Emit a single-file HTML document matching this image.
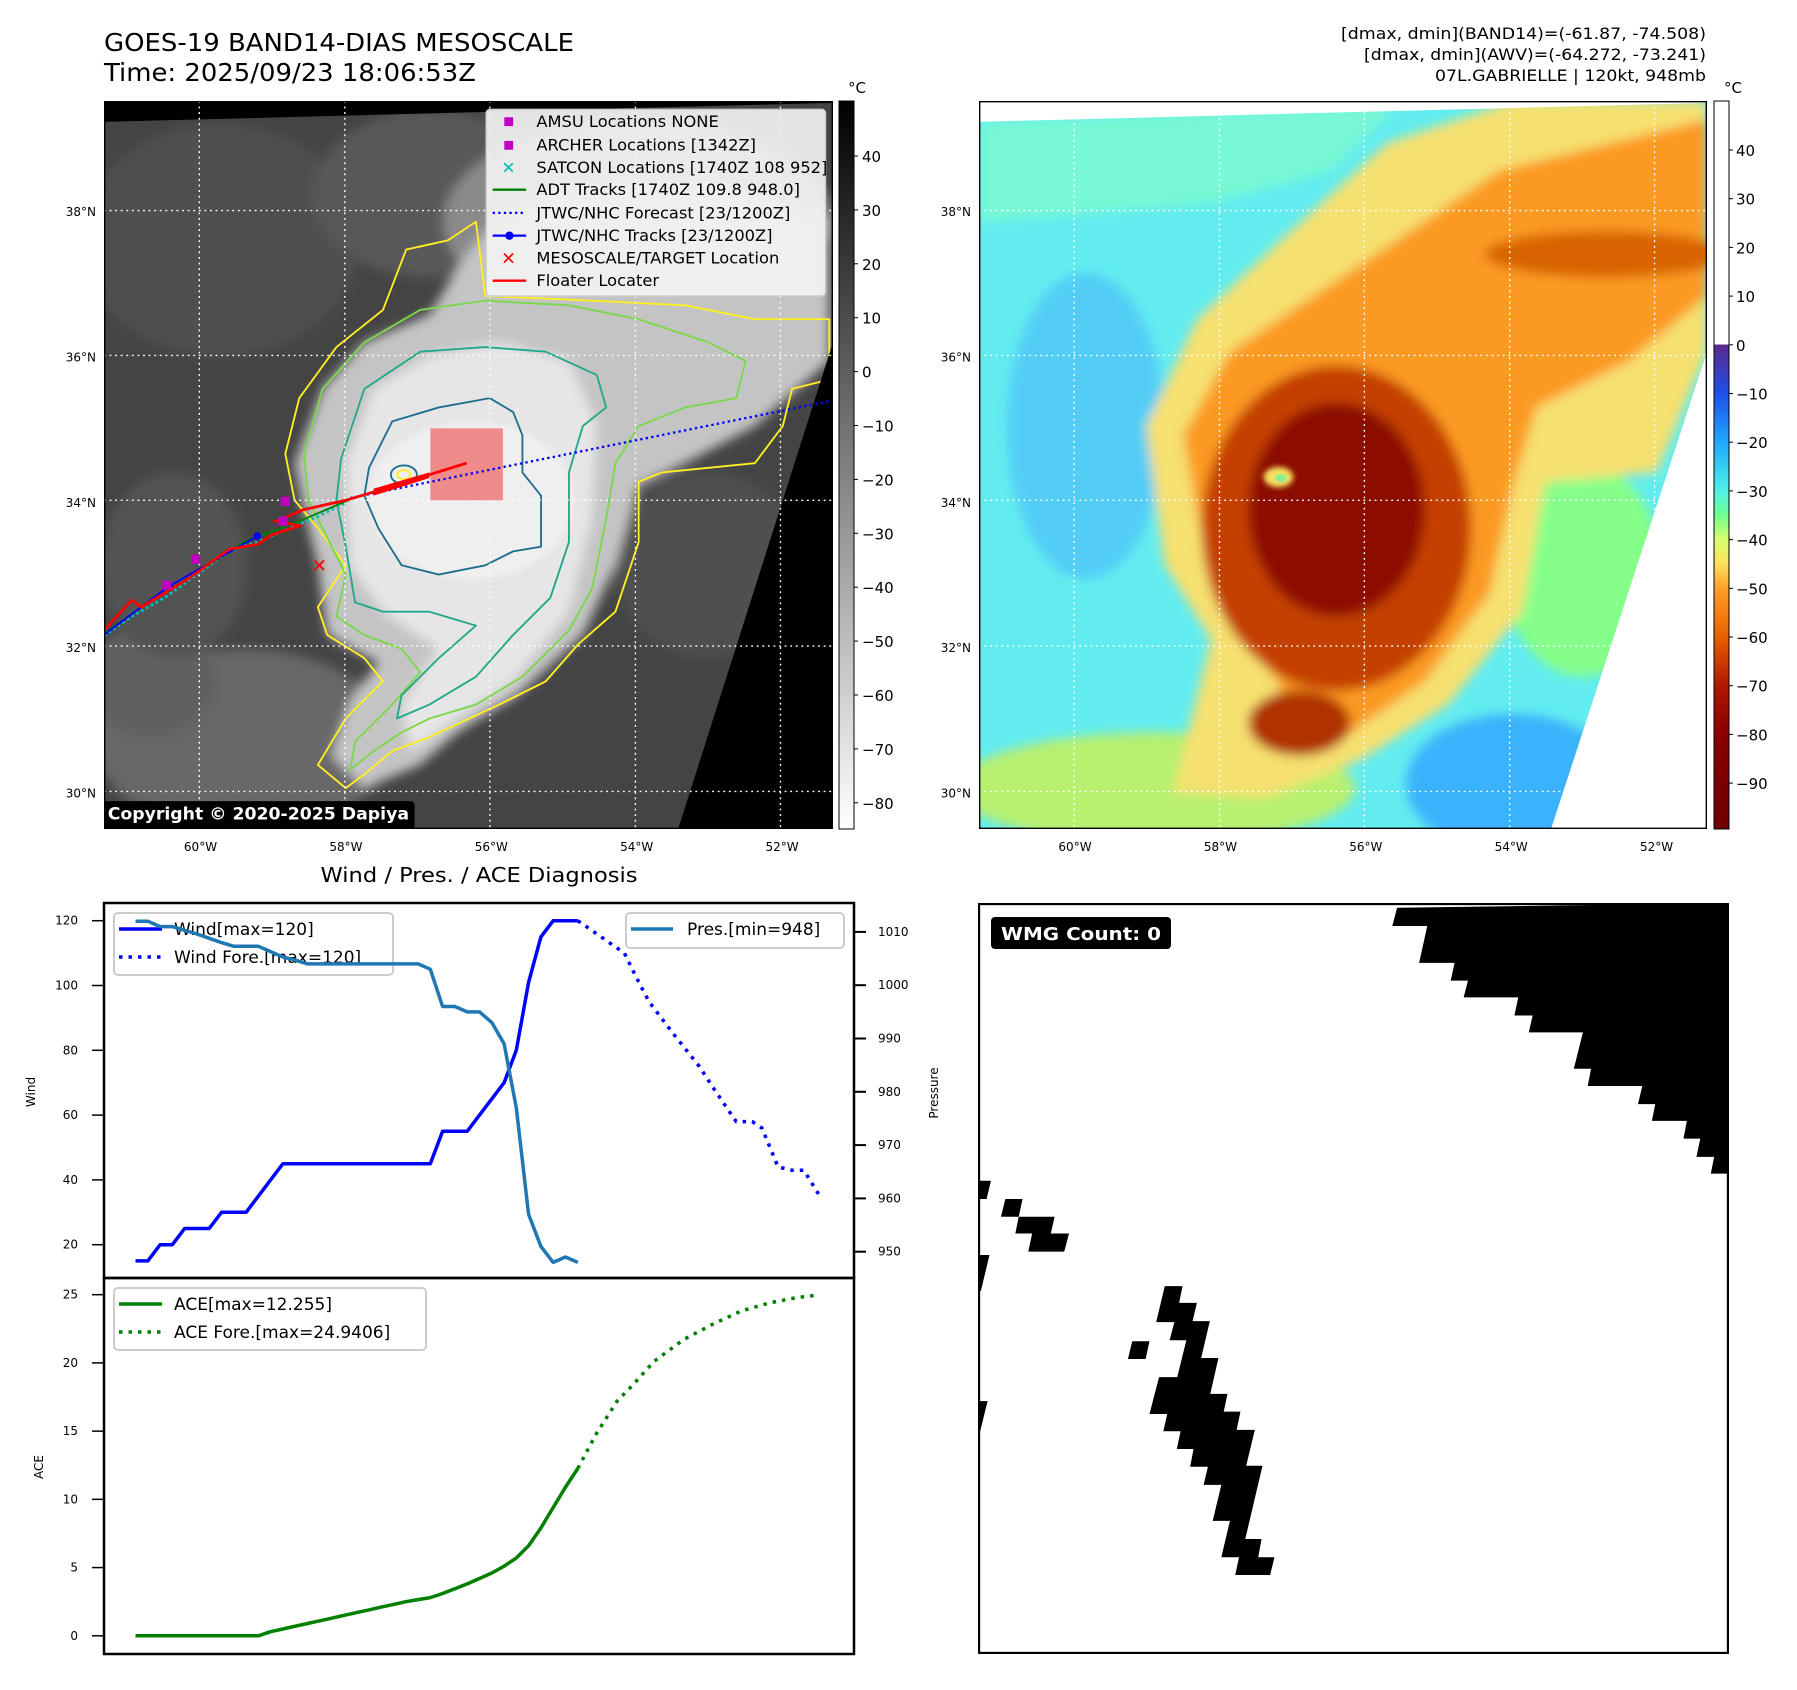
<!DOCTYPE html>
<html><head><meta charset="utf-8"><title>GOES-19 BAND14 Gabrielle</title>
<style>
html,body{margin:0;padding:0;background:#fff;}
svg{display:block;font-family:"DejaVu Sans","Liberation Sans",sans-serif;}
</style></head>
<body>
<svg id="fig" width="1797" height="1690" viewBox="0 0 1797 1690" xmlns="http://www.w3.org/2000/svg">
<defs>
  <filter id="blur1" x="-20%" y="-20%" width="140%" height="140%"><feGaussianBlur stdDeviation="12"/></filter>
  <filter id="blur2" x="-20%" y="-20%" width="140%" height="140%"><feGaussianBlur stdDeviation="6"/></filter>
  <linearGradient id="grayCb" x1="0" y1="0" x2="0" y2="1">
    <stop offset="0" stop-color="#000"/><stop offset="1" stop-color="#fff"/>
  </linearGradient>
  <linearGradient id="colCb" x1="0" y1="0" x2="0" y2="1">
    <stop offset="0" stop-color="#fff"/><stop offset="0.334" stop-color="#fff"/>
    <stop offset="0.335" stop-color="#5a2a8c"/><stop offset="0.401" stop-color="#1e4ee8"/>
    <stop offset="0.468" stop-color="#1ea8ff"/><stop offset="0.535" stop-color="#4ef0e8"/>
    <stop offset="0.569" stop-color="#70ff90"/><stop offset="0.602" stop-color="#d8ff70"/>
    <stop offset="0.635" stop-color="#ffe060"/><stop offset="0.669" stop-color="#ffa028"/>
    <stop offset="0.736" stop-color="#e86000"/><stop offset="0.803" stop-color="#b01800"/>
    <stop offset="0.870" stop-color="#880000"/><stop offset="1" stop-color="#700000"/>
  </linearGradient>
  <clipPath id="mapClip"><rect x="0" y="0" width="1568" height="1568"/></clipPath>
</defs>

<text x="104" y="51" font-size="25" textLength="470" lengthAdjust="spacingAndGlyphs">GOES-19 BAND14-DIAS MESOSCALE</text>
<text x="104" y="81" font-size="25" textLength="372" lengthAdjust="spacingAndGlyphs">Time: 2025/09/23 18:06:53Z</text>
<text x="1706" y="39" font-size="16" text-anchor="end" textLength="365" lengthAdjust="spacingAndGlyphs">[dmax, dmin](BAND14)=(-61.87, -74.508)</text>
<text x="1706" y="60" font-size="16" text-anchor="end" textLength="342" lengthAdjust="spacingAndGlyphs">[dmax, dmin](AWV)=(-64.272, -73.241)</text>
<text x="1706" y="81" font-size="16" text-anchor="end" textLength="271" lengthAdjust="spacingAndGlyphs">07L.GABRIELLE | 120kt, 948mb</text>

<!-- LEFT MAP -->
<svg x="104" y="101" width="729" height="728" viewBox="0 0 1568 1568" preserveAspectRatio="none">
 <g clip-path="url(#mapClip)">
  <rect width="1568" height="1568" fill="#444"/>
  <g filter="url(#blur1)">
   <ellipse cx="250" cy="300" rx="300" ry="250" fill="#505050"/>
   <ellipse cx="300" cy="1380" rx="320" ry="200" fill="#686868"/>
   <ellipse cx="100" cy="1250" rx="140" ry="120" fill="#606060"/>
   <ellipse cx="150" cy="1000" rx="160" ry="200" fill="#525252"/>
   <ellipse cx="700" cy="200" rx="250" ry="180" fill="#585858"/>
   <ellipse cx="1150" cy="260" rx="420" ry="220" fill="#8a8a8a"/>
   <ellipse cx="1300" cy="1000" rx="200" ry="200" fill="#505050"/>
   <path d="M410,780 L470,620 L560,520 L700,460 L780,330 L850,250 L1000,180 L1300,170 L1560,250 L1560,560 L1400,700 L1250,780 L1150,830 L1100,1000 L1030,1150 L890,1280 L760,1360 L680,1430 L560,1480 L490,1410 L530,1290 L590,1210 L480,1150 L460,1000 L430,880 Z" fill="#c4c4c4"/>
   <path d="M520,780 L580,620 L700,550 L850,520 L1000,560 L1060,700 L1050,900 L1000,1100 L880,1250 L760,1330 L660,1400 L640,1300 L720,1180 L600,1100 L530,1000 Z" fill="#e6e6e6"/>
  </g>
  <ellipse cx="790" cy="860" rx="220" ry="170" fill="#efefef" filter="url(#blur2)"/>
  <g fill="none" stroke-width="4" stroke-linejoin="round">
   <path stroke="#ffee22" d="M390,760 L420,640 L500,530 L600,450 L650,320 L740,300 L800,260 L820,420 L1050,430 L1250,440 L1400,470 L1560,470 L1560,600 L1480,620 L1460,700 L1400,780 L1300,790 L1200,800 L1150,820 L1150,950 L1100,1100 L1020,1170 L950,1250 L850,1300 L700,1370 L620,1400 L560,1450 L520,1480 L460,1430 L520,1330 L600,1250 L560,1200 L480,1150 L460,1090 L520,1000 L460,920 L410,860 Z"/>
   <path stroke="#7ad84a" d="M430,760 L470,620 L560,520 L680,450 L820,430 L1000,440 L1150,470 L1300,520 L1380,560 L1360,640 L1250,660 L1150,700 L1100,780 L1080,900 L1050,1050 L1000,1140 L900,1240 L800,1300 L700,1330 L640,1360 L580,1400 L530,1440 L540,1380 L620,1300 L680,1230 L640,1180 L560,1150 L500,1110 L520,1020 L480,940 L440,860 Z"/>
   <path stroke="#22a88a" d="M510,770 L560,620 L680,540 L820,530 L950,540 L1060,590 L1080,660 L1030,700 L1000,800 L1000,950 L960,1070 L880,1150 L800,1240 L700,1300 L630,1330 L640,1280 L720,1200 L800,1130 L700,1100 L600,1100 L540,1080 L520,960 L500,860 Z"/>
   <path stroke="#1f6f8c" d="M570,790 L620,690 L720,660 L830,640 L880,670 L900,720 L900,800 L940,850 L940,960 L880,970 L820,1000 L720,1020 L640,1000 L590,920 L560,850 Z"/>
   <ellipse cx="645" cy="805" rx="28" ry="20" stroke="#1f6f8c"/>
   <ellipse cx="645" cy="805" rx="14" ry="10" stroke="#ffee22"/>
  </g>
  <polygon points="1568,520 1568,1568 1235,1568" fill="#000"/>
  <polygon points="0,0 1568,0 1568,4 0,45" fill="#000"/>
  <g stroke="#fff" stroke-width="3" stroke-dasharray="4,8">
   <line x1="205" y1="0" x2="205" y2="1568"/><line x1="518" y1="0" x2="518" y2="1568"/><line x1="830" y1="0" x2="830" y2="1568"/><line x1="1143" y1="0" x2="1143" y2="1568"/><line x1="1455" y1="0" x2="1455" y2="1568"/>
   <line x1="0" y1="236" x2="1568" y2="236"/><line x1="0" y1="548" x2="1568" y2="548"/><line x1="0" y1="860" x2="1568" y2="860"/><line x1="0" y1="1174" x2="1568" y2="1174"/><line x1="0" y1="1487" x2="1568" y2="1487"/>
  </g>
  <rect x="702" y="705" width="156" height="155" fill="#f08080" opacity="0.9"/>
  <polyline points="530,855 1568,645" fill="none" stroke="#0000ff" stroke-width="5" stroke-dasharray="5,7"/>
  <polyline points="0,1152 60,1110 130,1070 200,1020 270,968 330,950 400,920 460,895 520,865" fill="none" stroke="#00c0c0" stroke-width="6" stroke-dasharray="6,6"/>
  <polyline points="0,1148 80,1090 200,1015 300,950 420,905 530,858" fill="none" stroke="#008000" stroke-width="4"/>
  <polyline points="0,1150 140,1045 330,937" fill="none" stroke="#0000ff" stroke-width="4"/>
  <circle cx="330" cy="937" r="8" fill="#0000ff"/><circle cx="140" cy="1045" r="8" fill="#0000ff"/>
  <polyline points="0,1140 60,1075 80,1090 180,1030 270,965 330,955 360,935 420,915 370,905 430,880 520,860 580,842 780,780" fill="none" stroke="#ff0000" stroke-width="6"/>
  <polygon points="580,835 700,800 700,812 580,850" fill="#ff0000"/>
  <g fill="#c000c0">
   <rect x="380" y="852" width="20" height="20"/><rect x="187" y="977" width="20" height="20"/><rect x="125" y="1033" width="20" height="20"/><rect x="375" y="895" width="20" height="20"/>
  </g>
  <text x="463" y="1014" font-size="40" font-weight="bold" fill="#ff0000" text-anchor="middle">✕</text>
  <g>
   <rect x="822" y="18" width="730" height="402" rx="8" fill="#f2f2f2" fill-opacity="0.92" stroke="#ccc" stroke-width="3"/>
   <rect x="861" y="35" width="19" height="19" fill="#c000c0"/>
   <rect x="861" y="86" width="19" height="19" fill="#c000c0"/>
   <text x="870" y="156" font-size="36" fill="#00c0c0" text-anchor="middle" font-weight="bold">✕</text>
   <line x1="836" y1="191" x2="908" y2="191" stroke="#008000" stroke-width="5"/>
   <line x1="836" y1="241" x2="908" y2="241" stroke="#0000ff" stroke-width="5" stroke-dasharray="5,7"/>
   <line x1="836" y1="290" x2="908" y2="290" stroke="#0000ff" stroke-width="5"/><circle cx="872" cy="290" r="9" fill="#0000ff"/>
   <text x="870" y="352" font-size="38" fill="#ff0000" text-anchor="middle" font-weight="bold">✕</text>
   <line x1="836" y1="387" x2="908" y2="387" stroke="#ff0000" stroke-width="5"/>
   <g font-size="35" fill="#000">
    <text x="930" y="56">AMSU Locations NONE</text>
    <text x="930" y="107">ARCHER Locations [1342Z]</text>
    <text x="930" y="155">SATCON Locations [1740Z 108 952]</text>
    <text x="930" y="203">ADT Tracks [1740Z 109.8 948.0]</text>
    <text x="930" y="253">JTWC/NHC Forecast [23/1200Z]</text>
    <text x="930" y="302">JTWC/NHC Tracks [23/1200Z]</text>
    <text x="930" y="350">MESOSCALE/TARGET Location</text>
    <text x="930" y="399">Floater Locater</text>
   </g>
  </g>
  <g>
   <rect x="-10" y="1508" width="678" height="70" rx="8" fill="#000"/>
   <text x="8" y="1548" font-size="37" font-weight="bold" fill="#fff" textLength="648" lengthAdjust="spacingAndGlyphs">Copyright © 2020-2025 Dapiya</text>
  </g>
 </g>
 <rect x="1" y="1" width="1566" height="1566" fill="none" stroke="#000" stroke-width="4"/>
</svg>

<rect x="839" y="101" width="15" height="728" fill="url(#grayCb)" stroke="#000" stroke-width="1"/>
<text x="848" y="93" font-size="15">°C</text>
<g id="cbL" font-size="15"></g>

<!-- RIGHT MAP -->
<svg x="979" y="101" width="728" height="728" viewBox="0 0 1568 1568" preserveAspectRatio="none">
 <g clip-path="url(#mapClip)">
  <rect width="1568" height="1568" fill="#62ecf0"/>
  <g filter="url(#blur1)">
   <path d="M0,45 L900,10 L760,150 L500,220 L0,260 Z" fill="#78f8d4"/>
   <ellipse cx="230" cy="700" rx="170" ry="330" fill="#52cdf6"/>
   <ellipse cx="1150" cy="1470" rx="230" ry="150" fill="#3ab2fc"/>
   <ellipse cx="1300" cy="1010" rx="170" ry="230" fill="#86ff8a"/>
   <ellipse cx="380" cy="1480" rx="430" ry="120" fill="#b8f070"/>
   <path d="M360,700 L470,470 L650,300 L880,90 L1150,0 L1568,0 L1568,540 L1460,800 L1220,820 L1170,1100 L1010,1300 L820,1420 L620,1500 L420,1490 L460,1320 L500,1160 L400,1000 Z" fill="#f6e070"/>
   <path d="M440,720 L540,540 L720,420 L900,300 L1120,150 L1568,40 L1568,420 L1400,560 L1200,660 L1150,830 L1100,1060 L960,1250 L760,1390 L620,1390 L650,1260 L560,1150 L490,1000 Z" fill="#fb9a22"/>
   <ellipse cx="1350" cy="330" rx="260" ry="50" fill="#d86400"/>
   <ellipse cx="770" cy="920" rx="290" ry="350" fill="#c44000"/>
   <ellipse cx="770" cy="880" rx="190" ry="230" fill="#8c0a00"/>
   <ellipse cx="690" cy="1340" rx="110" ry="70" fill="#b03000"/>
  </g>
  <ellipse cx="645" cy="810" rx="32" ry="22" fill="#f6e060" filter="url(#blur2)"/>
  <ellipse cx="650" cy="812" rx="12" ry="9" fill="#90f090"/>
  <polygon points="1568,540 1568,1568 1232,1568" fill="#fff"/>
  <polygon points="0,0 1568,0 1568,4 0,45" fill="#fff"/>
  <g stroke="#fff" stroke-width="3" stroke-dasharray="4,8">
   <line x1="205" y1="0" x2="205" y2="1568"/><line x1="518" y1="0" x2="518" y2="1568"/><line x1="830" y1="0" x2="830" y2="1568"/><line x1="1143" y1="0" x2="1143" y2="1568"/><line x1="1455" y1="0" x2="1455" y2="1568"/>
   <line x1="0" y1="236" x2="1568" y2="236"/><line x1="0" y1="548" x2="1568" y2="548"/><line x1="0" y1="860" x2="1568" y2="860"/><line x1="0" y1="1174" x2="1568" y2="1174"/><line x1="0" y1="1487" x2="1568" y2="1487"/>
  </g>
 </g>
 <rect x="1" y="1" width="1566" height="1566" fill="none" stroke="#000" stroke-width="4"/>
</svg>

<rect x="1714" y="101" width="15" height="728" fill="url(#colCb)" stroke="#000" stroke-width="1"/>
<text x="1724" y="93" font-size="15">°C</text>
<g id="cbR" font-size="15"></g>

<g id="mapLabels" font-size="12"></g>

<text x="479" y="882" font-size="20" text-anchor="middle" textLength="317" lengthAdjust="spacingAndGlyphs">Wind / Pres. / ACE Diagnosis</text>
<g id="windChart"></g>
<g id="aceChart"></g>
<rect x="104" y="903" width="750" height="375" fill="none" stroke="#000" stroke-width="2.5"/>
<rect x="104" y="1278" width="750" height="376" fill="none" stroke="#000" stroke-width="2.5"/>
<text transform="translate(35,1092) rotate(-90)" font-size="12" text-anchor="middle">Wind</text>
<text transform="translate(938,1093) rotate(-90)" font-size="12" text-anchor="middle">Pressure</text>
<text transform="translate(43,1467) rotate(-90)" font-size="12" text-anchor="middle">ACE</text>

<g>
 <rect x="114" y="913" width="279" height="62" rx="4" fill="#fff" fill-opacity="0.8" stroke="#ccc" stroke-width="2"/>
 <line x1="119" y1="929" x2="162" y2="929" stroke="#0000ff" stroke-width="3.5"/>
 <line x1="119" y1="957" x2="162" y2="957" stroke="#0000ff" stroke-width="3.5" stroke-dasharray="3.5,6"/>
 <text x="174" y="935" font-size="17">Wind[max=120]</text>
 <text x="174" y="963" font-size="17">Wind Fore.[max=120]</text>
</g>
<g id="presLayer"></g>
<g>
 <rect x="626" y="913" width="218" height="35" rx="4" fill="#fff" fill-opacity="0.8" stroke="#ccc" stroke-width="2"/>
 <line x1="631" y1="929" x2="673" y2="929" stroke="#1f77b4" stroke-width="3.5"/>
 <text x="687" y="935" font-size="17">Pres.[min=948]</text>
</g>
<g>
 <rect x="114" y="1288" width="312" height="62" rx="4" fill="#fff" fill-opacity="0.8" stroke="#ccc" stroke-width="2"/>
 <line x1="119" y1="1304" x2="162" y2="1304" stroke="#008000" stroke-width="3.5"/>
 <line x1="119" y1="1332" x2="162" y2="1332" stroke="#008000" stroke-width="3.5" stroke-dasharray="3.5,6"/>
 <text x="174" y="1310" font-size="17">ACE[max=12.255]</text>
 <text x="174" y="1338" font-size="17">ACE Fore.[max=24.9406]</text>
</g>

<svg x="978" y="903" width="751" height="751" viewBox="0 0 1568 1568" preserveAspectRatio="none">
 <rect width="1568" height="1568" fill="#fff"/>
 <g fill="#000">
  <polygon points="875,10 1568,0 1568,565 1530,565 1537,530 1500,530 1508,492 1473,492 1480,455 1407,455 1414,420 1378,420 1387,382 1273,382 1280,346 1244,346 1263,270 1150,270 1158,235 1120,235 1128,197 1014,197 1023,162 987,162 995,125 921,125 938,48 865,48"/>
  <polygon points="0,580 27,580 18,618 0,618"/>
  <polygon points="0,735 24,735 6,810 0,810"/>
  <polygon points="0,1040 20,1040 4,1105 0,1105"/>
  <polygon points="57,618 93,618 85,655 160,655 152,690 190,690 180,728 105,728 113,690 78,690 85,655 48,655"/>
  <polygon points="322,915 358,915 350,952 313,952"/>
  <polygon points="390,800 427,800 420,835 457,835 448,873 484,873 466,950 502,950 485,1025 521,1025 513,1062 548,1062 540,1100 578,1100 560,1175 594,1175 558,1328 592,1328 585,1366 619,1366 610,1403 537,1403 545,1366 508,1366 526,1290 490,1290 508,1215 471,1215 480,1177 443,1177 450,1140 415,1140 423,1103 387,1103 395,1067 358,1067 378,990 416,990 435,913 400,913 410,875 372,875"/>
 </g>
 <rect x="2" y="2" width="1564" height="1564" fill="none" stroke="#000" stroke-width="5"/>
</svg>
<g>
 <rect x="991" y="917" width="180" height="32" rx="4" fill="#000"/>
 <text x="1001" y="940" font-size="18" font-weight="bold" fill="#fff" textLength="160" lengthAdjust="spacingAndGlyphs">WMG Count: 0</text>
</g>
</svg>

<script>
const windObs = [15,15,20,20,25,25,25,30,30,30,35,40,45,45,45,45,45,45,45,45,45,45,45,45,45,55,55,55,60,65,70,80,101,115,120,120,120];
const windFcstX = [36,39.8,40.7,41.8,43.8,45.9,47.1,48.9,50.2,51,52.3,53.4,54.4,55.7];
const windFcstY = [120,110,103,95,85,75,68,58,58,56,44,43,43,35];
const presObs = [1012,1012,1011,1011,1010.3,1009.6,1008.8,1008,1007.3,1007.3,1007.3,1006.3,1005.3,1004.7,1004,1004,1004,1004,1004,1004,1004,1004,1004,1004,1003,996,996,995,995,993,989,977,957,951,948,949,948];
const aceObs = [0,0,0,0,0,0,0,0,0,0,0,0.3,0.5,0.7,0.9,1.1,1.3,1.5,1.7,1.9,2.1,2.3,2.5,2.65,2.8,3.1,3.45,3.8,4.2,4.6,5.1,5.7,6.6,7.9,9.4,10.9,12.26];
const aceFcstX = [36,37.5,39.2,40.4,42.2,44.6,46.9,49.3,51.6,53.9,55.3];
const aceFcstY = [12.26,14.8,17.2,18.3,20.1,21.7,22.8,23.8,24.4,24.8,24.94];
const windTicks = [20,40,60,80,100,120];
const presTicks = [950,960,970,980,990,1000,1010];
const aceTicks = [0,5,10,15,20,25];
const cbLeftTicks = [40,30,20,10,0,-10,-20,-30,-40,-50,-60,-70,-80];
const cbRightTicks = [40,30,20,10,0,-10,-20,-30,-40,-50,-60,-70,-80,-90];
const latTicks = [38,36,34,32,30];
const lonTicks = [60,58,56,54,52];

const NS = 'http://www.w3.org/2000/svg';
const xI = i => 135.5 + i * 12.285;
const yW = v => 920.7 + (120 - v) * 3.24;
const yP = p => 931.9 + (1010 - p) * 5.33;
const yA = v => 1635.8 - v * 13.645;
const latY = lat => 211 + (38 - lat) * 72.7;
const lonXL = lon => 200.5 + (60 - lon) * 72.7;
const lonXR = lon => 1075 + (60 - lon) * 72.7;

function mk(tag, attrs, parent) {
  const e = document.createElementNS(NS, tag);
  for (const k in attrs) e.setAttribute(k, attrs[k]);
  parent.appendChild(e);
  return e;
}
function line(parent, pts, color, dash) {
  const a = {points: pts.map(p => p[0].toFixed(1) + ',' + p[1].toFixed(1)).join(' '), fill: 'none', stroke: color, 'stroke-width': 3.5, 'stroke-linejoin': 'round'};
  if (dash) a['stroke-dasharray'] = dash;
  return mk('polyline', a, parent);
}
function txt(parent, x, y, s, anchor, size) {
  const t = mk('text', {x: x, y: y, 'text-anchor': anchor || 'start', 'font-size': size || 12}, parent);
  t.textContent = s;
  return t;
}
const minus = v => (v < 0 ? '\u2212' + Math.abs(v) : String(v));

const wc = document.getElementById('windChart');
const wl = line(wc, windObs.map((v, i) => [xI(i), yW(v)]), '#0000ff');


const wf = line(wc, windFcstX.map((x, k) => [xI(x), yW(windFcstY[k])]), '#0000ff', '3.5,6');


const pLayer = document.getElementById('presLayer');
const pl = line(pLayer, presObs.map((v, i) => [xI(i), yP(v)]), '#1f77b4');


windTicks.forEach(v => {
  mk('line', {x1: 92, x2: 104, y1: yW(v), y2: yW(v), stroke: '#000', 'stroke-width': 1.5}, wc);
  const t = txt(wc, 78, yW(v) + 4, String(v), 'end', 12);
  
  
});
presTicks.forEach(v => {
  mk('line', {x1: 854, x2: 866, y1: yP(v), y2: yP(v), stroke: '#000', 'stroke-width': 2}, wc);
  const t = txt(wc, 878, yP(v) + 4, String(v), 'start', 12);
  
  
});

const ac = document.getElementById('aceChart');
const al = line(ac, aceObs.map((v, i) => [xI(i), yA(v)]), '#008000');


const af = line(ac, aceFcstX.map((x, k) => [xI(x), yA(aceFcstY[k])]), '#008000', '3.5,6');


aceTicks.forEach(v => {
  mk('line', {x1: 92, x2: 104, y1: yA(v), y2: yA(v), stroke: '#000', 'stroke-width': 1.5}, ac);
  const t = txt(ac, 78, yA(v) + 4, String(v), 'end', 12);
  
  
});

const cbL = document.getElementById('cbL');
cbLeftTicks.forEach(v => {
  const y = 156 + (40 - v) * 5.39;
  mk('line', {x1: 854, x2: 858, y1: y, y2: y, stroke: '#000', 'stroke-width': 1}, cbL);
  const t = txt(cbL, 862, y + 6, minus(v), 'start', 15);
  
  
});
const cbR = document.getElementById('cbR');
cbRightTicks.forEach(v => {
  const y = 150 + (40 - v) * 4.87;
  mk('line', {x1: 1729, x2: 1733, y1: y, y2: y, stroke: '#000', 'stroke-width': 1}, cbR);
  const t = txt(cbR, 1736, y + 6, minus(v), 'start', 15);
  
  
});

const ml = document.getElementById('mapLabels');
latTicks.forEach(lat => {
  const y = latY(lat) + 5;
  const a = txt(ml, 96, y, lat + '°N', 'end', 12);
  
  
  const b = txt(ml, 971, y, lat + '°N', 'end', 12);
  
  
});
lonTicks.forEach(lon => {
  const a = txt(ml, lonXL(lon), 851, lon + '°W', 'middle', 12);
  
  
  const b = txt(ml, lonXR(lon), 851, lon + '°W', 'middle', 12);
  
  
});
</script>
</body></html>
